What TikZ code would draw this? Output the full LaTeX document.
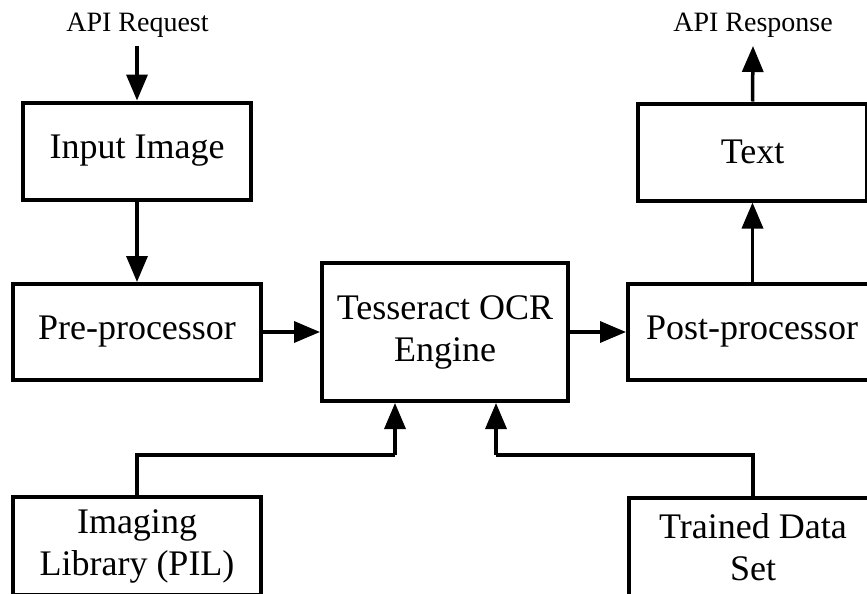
\documentclass[tikz,border=0pt]{standalone}
\usepackage{fontspec}
\setmainfont{Liberation Serif}
\usetikzlibrary{arrows.meta,calc}
\begin{document}
\begin{tikzpicture}[x=1pt,y=-1pt,
  blk/.style={draw=black,line width=4pt,fill=white,inner sep=0pt,align=center,
    font=\fontsize{36}{42}\selectfont},
  lbl/.style={inner sep=0pt,font=\fontsize{28}{32}\selectfont},
  conn/.style={line width=3.5pt,-{Triangle[length=26pt,width=21pt]}},
  plain/.style={line width=3.5pt}]
\useasboundingbox (0,0) rectangle (867,594);
\node[lbl,anchor=base] (req) at (137.5,32) {API Request};
\node[lbl,anchor=base] (resp) at (753,32) {API Response};
\coordinate (reqend) at (137,46);
\coordinate (respend) at (753,46);
\node[blk,minimum width=228pt,minimum height=97pt] (inimg) at (137,151) {Input Image};
\node[blk,minimum width=229pt,minimum height=97pt] (text) at (752.5,152) {Text};
\node[blk,minimum width=248pt,minimum height=96pt] (pre) at (137,332) {Pre-processor};
\node[blk,minimum width=246pt,minimum height=138pt] (tess) at (445,332) {Tesseract OCR\\Engine};
\node[blk,minimum width=248pt,minimum height=96pt] (post) at (752,332) {Post-processor};
\node[blk,minimum width=248pt,minimum height=98pt] (pil) at (137,546) {Imaging\\Library (PIL)};
\node[blk,minimum width=248pt,minimum height=98pt] (tds) at (753,547) {Trained Data\\Set};
\coordinate (jl) at (395,455);
\coordinate (jr) at (496,455);
\draw[conn] (reqend) -- (inimg.north);
\draw[conn] (inimg.south) -- (pre.north);
\draw[conn] (pre.east) -- (tess.west);
\draw[conn] (tess.east) -- (post.west);
\draw[conn] (post.north -| text.north) -- (text.south);
\draw[conn] (text.north) -- (respend);
\draw[plain] (pil.north) |- (jl);
\draw[conn] (jl) -- (jl |- tess.south);
\draw[plain] (tds.north) |- (jr);
\draw[conn] (jr) -- (jr |- tess.south);
\end{tikzpicture}
\end{document}
